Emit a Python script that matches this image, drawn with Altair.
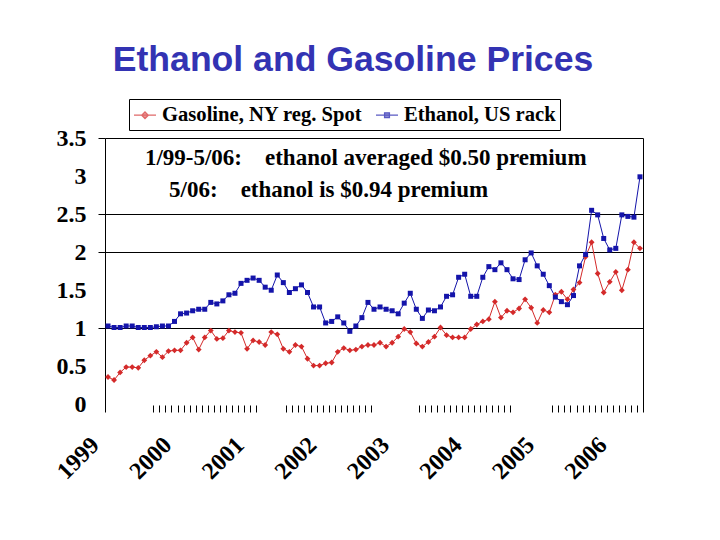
import json
import altair as alt
import pandas as pd

# ---------------- data ----------------
SERIES = ["Gasoline, NY reg. Spot", "Ethanol, US rack"]
COLORS = ["#D42A2A", "#1414AA"]
MONTH_INDEX = list(range(89))  # Jan 1999 ... May 2006, monthly

GASOLINE = [0.36, 0.32, 0.42, 0.49, 0.49, 0.48, 0.58, 0.64, 0.69, 0.62, 0.70, 0.71,
            0.71, 0.81, 0.88, 0.72, 0.88, 0.97, 0.86, 0.87, 0.97, 0.95, 0.94, 0.73,
            0.84, 0.82, 0.78, 0.95, 0.92, 0.73, 0.69, 0.78, 0.76, 0.60, 0.51, 0.51,
            0.54, 0.55, 0.69, 0.74, 0.71, 0.72, 0.76, 0.78, 0.78, 0.81, 0.76, 0.81,
            0.89, 0.99, 0.95, 0.80, 0.76, 0.82, 0.89, 1.01, 0.91, 0.88, 0.88, 0.88,
            0.99, 1.05, 1.09, 1.12, 1.35, 1.14, 1.23, 1.21, 1.26, 1.38, 1.27, 1.07,
            1.24, 1.21, 1.44, 1.48, 1.38, 1.51, 1.60, 1.94, 2.13, 1.72, 1.47, 1.61,
            1.74, 1.50, 1.77, 2.13, 2.05]

ETHANOL = [1.03, 1.01, 1.01, 1.03, 1.03, 1.01, 1.01, 1.01, 1.02, 1.03, 1.03, 1.09,
           1.19, 1.20, 1.23, 1.25, 1.25, 1.34, 1.32, 1.36, 1.44, 1.46, 1.59, 1.63,
           1.66, 1.63, 1.54, 1.50, 1.70, 1.60, 1.47, 1.52, 1.57, 1.47, 1.28, 1.28,
           1.07, 1.09, 1.15, 1.07, 0.96, 1.03, 1.14, 1.34, 1.25, 1.28, 1.25, 1.23,
           1.19, 1.33, 1.46, 1.25, 1.13, 1.24, 1.23, 1.28, 1.42, 1.44, 1.67, 1.71,
           1.42, 1.42, 1.67, 1.81, 1.77, 1.86, 1.77, 1.65, 1.64, 1.90, 1.99, 1.82,
           1.71, 1.56, 1.41, 1.35, 1.31, 1.43, 1.82, 1.97, 2.55, 2.49, 2.18, 2.03,
           2.05, 2.49, 2.47, 2.46, 2.99]

YEAR_LABELS = ["1999", "2000", "2001", "2002", "2003", "2004", "2005", "2006"]
Y_TICKS = [0, 0.5, 1, 1.5, 2, 2.5, 3, 3.5]
Y_RULES = [1, 2, 2.5, 3.5]
MINOR_TICK_RUNS = [(7.5, 18), (29.5, 15), (51.5, 16), (73.5, 15)]  # (first, count)

NOTE_TEXT = ["1/99-5/06:\u00a0\u00a0\u00a0 ethanol averaged $0.50 premium",
             "5/06:\u00a0\u00a0\u00a0 ethanol is $0.94 premium"]
NOTE_MONTH = [6.1, 10.1]
NOTE_VALUE = [3.15, 2.73]

TITLE = "Ethanol and Gasoline Prices"

# ---------------- tables ----------------
rows = []
for s, vals in zip(SERIES, [GASOLINE, ETHANOL]):
    for m, v in zip(MONTH_INDEX, vals):
        rows.append({"month": m, "value": v, "series": s})
df = pd.DataFrame(rows)
notes = pd.DataFrame({"month": NOTE_MONTH, "value": NOTE_VALUE, "text": NOTE_TEXT})

SERIF = "Liberation Serif"

minor_ticks = [a + i for a, n in MINOR_TICK_RUNS for i in range(n)]
year_vals = [12 * i for i in range(len(YEAR_LABELS))]
x_values = sorted(set(minor_ticks + year_vals))
label_expr = ("datum.value % 12 == 0 ? " + json.dumps(YEAR_LABELS)
              + "[datum.value / 12] : ''")

x_axis = alt.Axis(
    values=x_values, labelExpr=label_expr, title=None, domain=False, grid=False,
    ticks=True, tickSize=7, tickColor="black", tickWidth=1,
    tickOpacity={"condition": {"test": "datum.value % 1 != 0", "value": 1}, "value": 0},
    labelAngle=-45, labelAlign="right", labelBaseline="middle",
    labelFont=SERIF, labelFontWeight="bold", labelFontSize=24, labelColor="black",
    labelPadding=29, labelOffset=-13, labelOverlap=False, labelFlush=False,
    labelBound=False, offset=-7,
)
X = alt.X("month:Q", scale=alt.Scale(domain=[-0.5, 88.5], nice=False, zero=False),
          axis=x_axis)

y_scale = alt.Scale(domain=[-0.1, 3.5], nice=False, zero=False)
rule_test = "indexof(" + json.dumps(Y_RULES) + ", datum.value) >= 0"
y_axis = alt.Axis(
    values=Y_TICKS, title=None, format="~g",
    grid=True, gridColor="black", gridWidth=1,
    gridOpacity={"condition": {"test": rule_test, "value": 1}, "value": 0},
    ticks=True, tickSize=7, tickColor="black", tickWidth=1,
    tickOpacity={"condition": {"test": rule_test, "value": 1}, "value": 0},
    domain=True, domainColor="black", domainWidth=1,
    labelFont=SERIF, labelFontWeight="bold", labelFontSize=24, labelColor="black",
    labelPadding=12,
)
y_right = alt.Axis(orient="right", title=None, labels=False, ticks=False, grid=False,
                   domain=True, domainColor="black", domainWidth=1)

layers = []
shapes = ["diamond", "square"]
sizes = [34, 25]
for i, (s, c) in enumerate(zip(SERIES, COLORS)):
    ax = y_axis if i == 0 else y_right
    line = alt.Chart(df).transform_filter(alt.datum.series == s).mark_line(
        color=c, strokeWidth=1).encode(
        x=X, y=alt.Y("value:Q", scale=y_scale, axis=ax))
    layers.append(line)
for i, (s, c) in enumerate(zip(SERIES, COLORS)):
    pts = alt.Chart(df).transform_filter(alt.datum.series == s).mark_point(
        shape=shapes[i], filled=True, color=c, size=sizes[i], opacity=1).encode(
        x=X, y=alt.Y("value:Q", scale=y_scale, axis=None))
    layers.append(pts)

legend_paths = ["M-1,0H1M0,-0.3L0.3,0L0,0.3L-0.3,0Z",
                "M-1,0H1M-0.22,-0.22H0.22V0.22H-0.22Z"]
leg = alt.Legend(title=None, orient="none", legendX=24, legendY=-39,
                 direction="horizontal", symbolSize=484, symbolStrokeWidth=1.3,
                 labelFont=SERIF, labelFontSize=20.6, labelFontWeight="bold",
                 labelColor="black", labelLimit=400, strokeColor="black",
                 fillColor="white", padding=4, columnPadding=10, labelOffset=5)
legend_layer = alt.Chart(df).transform_filter("false").mark_point(filled=True).encode(
    fill=alt.Fill("series:N", scale=alt.Scale(domain=SERIES, range=COLORS), legend=leg),
    stroke=alt.Stroke("series:N", scale=alt.Scale(domain=SERIES, range=COLORS), legend=leg),
    shape=alt.Shape("series:N", scale=alt.Scale(domain=SERIES, range=legend_paths), legend=leg),
)
layers.append(legend_layer)

note_layer = alt.Chart(notes).mark_text(
    align="left", baseline="alphabetic", font=SERIF, fontSize=23, fontWeight="bold",
    color="black").encode(
    x=X, y=alt.Y("value:Q", scale=y_scale, axis=None), text="text:N")
layers.append(note_layer)

chart = alt.layer(*layers).resolve_axis(y="independent").properties(
    width=538, height=274,
    title=alt.TitleParams(TITLE, font="Liberation Sans", fontSize=35.6, fontWeight="bold",
                          color="#3333B3", anchor="middle", dx=-21, offset=20),
    autosize=alt.AutoSizeParams(type="none"),
    padding={"left": 105, "top": 138, "right": 77, "bottom": 128},
    background="white",
).configure_view(stroke=None)

chart.save("out.html", embed_options={"renderer": "svg", "actions": False})
